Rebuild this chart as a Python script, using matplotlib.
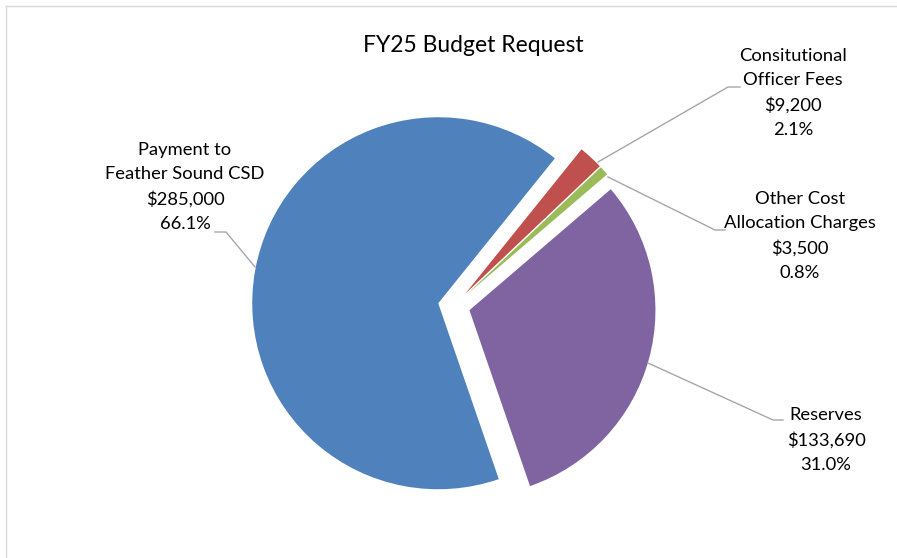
import matplotlib.pyplot as plt

plt.rcParams['font.family'] = ['Lato', 'DejaVu Sans']

categories = ['Payment to\nFeather Sound CSD', 'Consitutional\nOfficer Fees',
              'Other Cost\nAllocation Charges', 'Reserves']
values = [285000, 9200, 3500, 133690]
colors = ['#4F81BD', '#C0504D', '#9BBB59', '#8064A2']

total = sum(values)
labels = []
for c, v in zip(categories, values):
    labels.append('%s\n$%s\n%.1f%%' % (c, format(v, ','), v / total * 100))

W, H = 897, 558
fig = plt.figure(figsize=(W / 100, H / 100), dpi=100)
ax = fig.add_axes([0, 0, 1, 1])

# pixel-like data coords, y flipped
cx, cy, r = 454, H - 306, 186
ax.pie(values, colors=colors, startangle=-71, counterclock=False,
       center=(cx, cy), radius=r, explode=[16, 16, 16, 16],
       wedgeprops=dict(linewidth=0))
ax.set_xlim(0, W)
ax.set_ylim(0, H)
ax.set_aspect('equal')
ax.axis('off')

# chart border
ax.plot([5.5, W], [H - 5.5, H - 5.5], color='#D9D9D9', lw=1)
ax.plot([5.5, 5.5], [H - 5.5, 0], color='#D9D9D9', lw=1)

ax.text(473, H - 46, 'FY25 Budget Request', ha='center', va='center',
        fontsize=16.5, color='#000000')

# label text centres and leader lines (pixel positions)
text_pos = [(185, 187), (793, 93), (800, 236), (826, 440)]
leaders = [
    [(215, 232), (226, 232), (255, 267)],
    [(740, 87), (728, 87), (598, 162)],
    [(725, 230), (715, 230), (608, 177)],
    [(783, 420), (773, 420), (648, 363)],
]
for lab, (tx, ty), pts in zip(labels, text_pos, leaders):
    ax.text(tx, H - ty, lab, ha='center', va='center', fontsize=13.2,
            linespacing=1.62, color='#000000')
    ax.plot([p[0] for p in pts], [H - p[1] for p in pts],
            color='#A6A6A6', lw=1)

fig.savefig('out.png', dpi=100)
